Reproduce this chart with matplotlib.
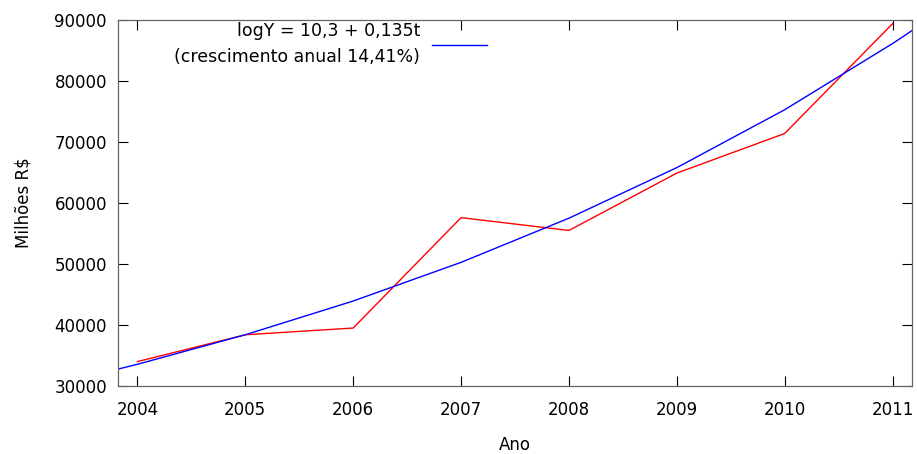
import matplotlib
matplotlib.use("Agg")
import matplotlib.pyplot as plt

# Observed series (Milhões R$)
years = [2004, 2005, 2006, 2007, 2008, 2009, 2010, 2011]
values = [34000, 38400, 39500, 57600, 55500, 64900, 71400, 89400]

# Fitted curve
fit_x = [2003.82, 2004, 2005, 2006, 2007, 2008, 2009, 2010, 2011, 2011.18]
fit_y = [32770, 33560, 38400, 43930, 50270, 57510, 65800, 75290, 86140, 88260]

fit_label = "logY = 10,3 + 0,135t\n(crescimento anual 14,41%)"
xticks = [2004, 2005, 2006, 2007, 2008, 2009, 2010, 2011]
yticks = [30000, 40000, 50000, 60000, 70000, 80000, 90000]

plt.rcParams['font.family'] = ['DejaVu Sans']
fig = plt.figure(figsize=(9.17, 4.54), dpi=100)
ax = fig.add_axes([118/917, 1-386/454, (912-118)/917, (386-20)/454])

ax.plot(years, values, color='#ff0000', lw=1.0)
ax.plot(fit_x, fit_y, color='#0000ff', lw=1.0, label=fit_label)

ax.set_xlim(2003.82, 2011.18)
ax.set_ylim(30000, 90000)
ax.set_xticks(xticks)
ax.set_xticklabels([str(x) for x in xticks])
ax.set_yticks(yticks)
ax.set_yticklabels([str(y) for y in yticks])
ax.tick_params(direction='in', length=7.2, width=0.8, top=True, right=True,
               labelsize=12, color='black')
ax.tick_params(axis='x', pad=11)
ax.tick_params(axis='y', pad=8)
for s in ax.spines.values():
    s.set_color('#666666')
    s.set_linewidth(0.9)
    s.set_zorder(6)

ax.set_xlabel("Ano", fontsize=12, labelpad=12)
ax.set_ylabel("Milhões R$", fontsize=12, labelpad=16)

leg = ax.legend(loc='upper right', bbox_to_anchor=(0.465, 0.995), frameon=False,
                markerfirst=False, fontsize=12.5, handlelength=3.2,
                handletextpad=0.65, borderpad=0.0, borderaxespad=0.0)
for t in leg.get_texts():
    t.set_multialignment('right')
    t.set_linespacing(1.55)
    t.set_bbox(dict(facecolor='white', edgecolor='none', pad=1))

fig.savefig("out.png", dpi=100)
